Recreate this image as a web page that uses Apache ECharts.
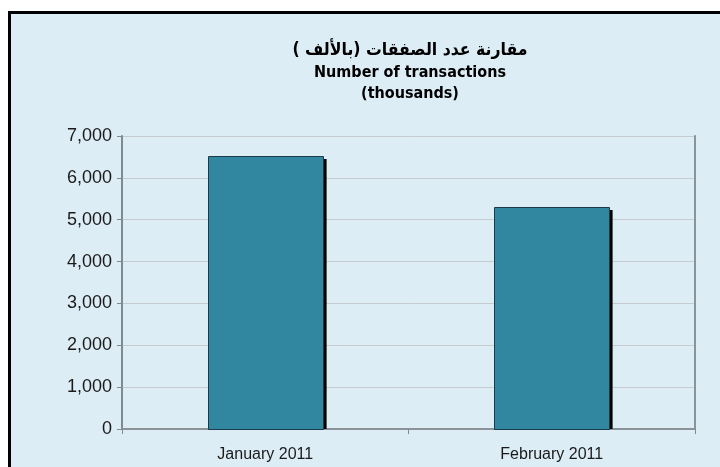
<!DOCTYPE html>
<html>
<head>
<meta charset="utf-8">
<script src="https://cdn.jsdelivr.net/npm/echarts@6/dist/echarts.min.js"></script>
<style>
  html, body { margin: 0; padding: 0; background: #ffffff; }
  #chart { width: 720px; height: 467px; }
</style>
</head>
<body>
<div id="chart"></div>
<script>
  const categories = ['January 2011', 'February 2011'];
  const transactions = [6520, 5300];
  const yTicks = [0, 1000, 2000, 3000, 4000, 5000, 6000, 7000];

  const chart = echarts.init(document.getElementById('chart'));

  // bar with a hard black shadow on its right side, like the old excel chart
  function renderBar(params, api) {
    const base = api.coord([api.value(0), 0]);
    const top = api.coord([api.value(0), api.value(1)]);
    const bandWidth = api.size([1, 0])[0];
    const w = bandWidth * 0.4;
    const x = Math.round(base[0] - w / 2);
    const y = Math.round(top[1]);
    const h = Math.round(base[1]) - y;
    return {
      type: 'group',
      children: [{
        type: 'rect',
        shape: { x: x + w, y: y + 3, width: 4, height: h - 3 },
        style: { fill: '#000' }
      }, {
        type: 'rect',
        shape: { x: x + 0.5, y: y + 0.5, width: Math.round(w), height: h },
        style: { fill: '#31879f', stroke: '#1b3b48', lineWidth: 1 }
      }]
    };
  }

  chart.setOption({
    backgroundColor: '#ffffff',
    animation: false,
    graphic: [{
      type: 'rect',
      z: -10,
      shape: { x: 9.5, y: 12.5, width: 720, height: 470 },
      style: { fill: '#ddedf6', stroke: '#000', lineWidth: 3 }
    }],
    title: {
      text: '{ar|مقارنة عدد الصفقات (بالألف )}\nNumber of transactions\n(thousands)',
      left: 405,
      textAlign: 'center',
      top: 33,
      textStyle: {
        fontFamily: '"Liberation Sans Narrow", "DejaVu Sans Condensed", Arial, sans-serif',
        fontSize: 16,
        fontWeight: 'bold',
        color: '#000',
        lineHeight: 21,
        rich: {
          ar: {
            fontFamily: '"DejaVu Sans Condensed", "DejaVu Sans", sans-serif',
            fontSize: 17.5,
            fontWeight: 'bold',
            color: '#000',
            lineHeight: 24
          }
        }
      }
    },
    grid: { left: 122, right: 25, top: 136, bottom: 38 },
    xAxis: [{
      type: 'category',
      data: categories,
      axisLine: { lineStyle: { color: '#7f8a8f', width: 2 } },
      axisTick: { show: true, length: 5, alignWithLabel: false, lineStyle: { color: '#7f8a8f' } },
      axisLabel: {
        color: '#1a1a1a',
        fontSize: 16,
        margin: 18,
        fontFamily: 'Arial, "Liberation Sans", sans-serif'
      }
    }, {
      type: 'category',
      position: 'top',
      data: categories,
      axisLine: { lineStyle: { color: '#8a9398', width: 2 } },
      axisTick: { show: false },
      axisLabel: { show: false }
    }],
    yAxis: [{
      type: 'value',
      min: yTicks[0],
      max: yTicks[yTicks.length - 1],
      interval: 1000,
      axisLine: { show: true, lineStyle: { color: '#7f8a8f', width: 2 } },
      axisTick: { show: true, length: 5, lineStyle: { color: '#7f8a8f' } },
      axisLabel: {
        color: '#1a1a1a',
        fontSize: 18,
        margin: 10,
        fontFamily: 'Arial, "Liberation Sans", sans-serif',
        formatter: v => v.toLocaleString('en-US')
      },
      splitLine: { show: true, lineStyle: { color: '#c5cbcf', width: 1 } }
    }, {
      type: 'value',
      position: 'right',
      min: yTicks[0],
      max: yTicks[yTicks.length - 1],
      interval: 1000,
      axisLine: { show: true, lineStyle: { color: '#8a9398', width: 2 } },
      axisTick: { show: false },
      axisLabel: { show: false },
      splitLine: { show: false }
    }],
    series: [{
      type: 'custom',
      renderItem: renderBar,
      encode: { x: 0, y: 1 },
      data: categories.map((c, i) => [i, transactions[i]])
    }]
  });
</script>
</body>
</html>
